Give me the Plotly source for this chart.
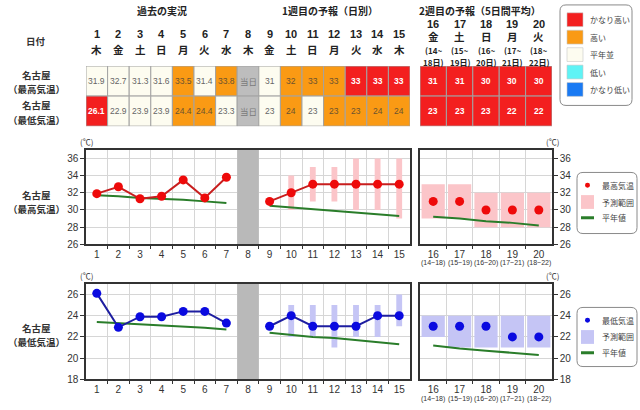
import plotly.graph_objects as go

W, H = 640, 410


def px(x):
    return x / W


def py(y):
    return 1 - y / H


# ---------------- data ----------------
days_w1 = [1, 2, 3, 4, 5, 6, 7, 8, 9, 10, 11, 12, 13, 14, 15]
weekdays_w1 = ['木', '金', '土', '日', '月', '火', '水', '木', '金', '土', '日', '月', '火', '水', '木']
days_obs = [1, 2, 3, 4, 5, 6, 7]
today_day = 8
today_label = '当日'
days_fc = [9, 10, 11, 12, 13, 14, 15]
days_w2 = [16, 17, 18, 19, 20]
weekdays_w2 = ['金', '土', '日', '月', '火']
w2_start = [14, 15, 16, 17, 18]
w2_end = [18, 19, 20, 21, 22]

tmax_obs = [31.9, 32.7, 31.3, 31.6, 33.5, 31.4, 33.8]
tmax_fc = [31, 32, 33, 33, 33, 33, 33]
tmax_fc_low = [None, 30, 31, 31, 30, 30, 29]
tmax_fc_high = [None, 34, 35, 35, 36, 36, 36]
tmax_w2 = [31, 31, 30, 30, 30]
tmax_w2_low = [29, 29, 28, 28, 28]
tmax_w2_high = [33, 33, 32, 32, 32]
tmax_norm_obs = [31.7, 31.6, 31.4, 31.3, 31.2, 31.0, 30.8]
tmax_norm_fc = [30.5, 30.3, 30.1, 29.9, 29.7, 29.5, 29.3]
tmax_norm_w2 = [29.2, 29.0, 28.7, 28.5, 28.2]

tmin_obs = [26.1, 22.9, 23.9, 23.9, 24.4, 24.4, 23.3]
tmin_fc = [23, 24, 23, 23, 23, 24, 24]
tmin_fc_low = [None, 22, 22, 21, 22, 22, 23]
tmin_fc_high = [None, 25, 25, 25, 25, 25, 26]
tmin_w2 = [23, 23, 23, 22, 22]
tmin_w2_low = [22, 21, 21, 21, 21]
tmin_w2_high = [24, 24, 24, 24, 24]
tmin_norm_obs = [23.4, 23.3, 23.2, 23.1, 23.0, 22.85, 22.7]
tmin_norm_fc = [22.4, 22.2, 22.0, 21.9, 21.7, 21.5, 21.3]
tmin_norm_w2 = [21.2, 20.9, 20.7, 20.5, 20.3]

# table classes (VH=かなり高い, H=高い, N=平年並, L=低い, VL=かなり低い, T=当日)
tmax_class_w1 = ['N', 'N', 'N', 'N', 'H', 'N', 'H', 'T', 'N', 'H', 'H', 'H', 'VH', 'VH', 'VH']
tmax_class_w2 = ['VH', 'VH', 'VH', 'VH', 'VH']
tmin_class_w1 = ['VH', 'N', 'N', 'N', 'H', 'H', 'N', 'T', 'N', 'H', 'N', 'H', 'H', 'H', 'H']
tmin_class_w2 = ['VH', 'VH', 'VH', 'VH', 'VH']

class_keys = ['VH', 'H', 'N', 'L', 'VL']
class_labels = ['かなり高い', '高い', '平年並', '低い', 'かなり低い']

# ---------------- styles ----------------
CLASS_COLOR = {'VH': '#f31f1f', 'H': '#fa9a14', 'N': '#fdfcf0', 'L': '#5ff3f5', 'VL': '#1a7af3', 'T': '#bdbdbd'}
CLASS_TEXT = {'VH': '#ffffff', 'H': '#6b5330', 'N': '#666666', 'L': '#333333', 'VL': '#ffffff', 'T': '#7a7a7a'}
FONT = 'Liberation Sans, Noto Sans CJK JP, sans-serif'
JFONT = 'Noto Sans CJK JP, sans-serif'
RED_M, RED_L = '#ee0a0a', '#c81e1e'
BLUE_M, BLUE_L = '#0a0ae0', '#1e1ea0'
PINK, LAV = '#fbc5c9', '#c5c5f5'
GREEN = '#2a7d2a'
GRID = '#d6d6d6'
FRAME = '#333333'
BAND = '#b9b9b9'

# geometry (pixels)
L1X0, L1X1 = 86, 410
R1X0, R1X1 = 420, 552
C1Y0, C1Y1 = 152, 248
C2Y0, C2Y1 = 288, 385
TY0, TY1 = 67, 128
MAX_RANGE = [26, 37]
MIN_RANGE = [18, 27]

fig = go.Figure()


def keep(xs, lows, highs):
    xx, bb, hh = [], [], []
    for x, lo, hi in zip(xs, lows, highs):
        if lo is not None and hi is not None:
            xx.append(x)
            bb.append(lo)
            hh.append(hi - lo)
    return xx, bb, hh


def add_chart(xa_l, ya_l, xa_r, ya_r, rng, obs, fc, fc_lo, fc_hi, w2, w2_lo, w2_hi,
              n_obs, n_fc, n_w2, mcol, lcol, rcol):
    # today band
    fig.add_trace(go.Bar(x=[today_day], y=[rng[1] - rng[0]], base=[rng[0]], width=1,
                         marker=dict(color=BAND, line=dict(width=0)), xaxis=xa_l, yaxis=ya_l, hoverinfo='skip'))
    # forecast ranges (week 1)
    xx, bb, hh = keep(days_fc, fc_lo, fc_hi)
    fig.add_trace(go.Bar(x=xx, y=hh, base=bb, width=0.27, marker=dict(color=rcol, line=dict(width=0)),
                         xaxis=xa_l, yaxis=ya_l, hoverinfo='skip'))
    # forecast ranges (week 2)
    xx, bb, hh = keep(days_w2, w2_lo, w2_hi)
    fig.add_trace(go.Bar(x=xx, y=hh, base=bb, width=0.88, marker=dict(color=rcol, line=dict(width=0)),
                         xaxis=xa_r, yaxis=ya_r, hoverinfo='skip'))
    # normals
    for xs, ys, xa, ya in [(days_obs, n_obs, xa_l, ya_l), (days_fc, n_fc, xa_l, ya_l), (days_w2, n_w2, xa_r, ya_r)]:
        fig.add_trace(go.Scatter(x=xs, y=ys, mode='lines', line=dict(color=GREEN, width=2),
                                 xaxis=xa, yaxis=ya, hoverinfo='skip'))
    # observed / forecast
    for xs, ys in [(days_obs, obs), (days_fc, fc)]:
        fig.add_trace(go.Scatter(x=xs, y=ys, mode='lines+markers', line=dict(color=lcol, width=2),
                                 marker=dict(color=mcol, size=9), xaxis=xa_l, yaxis=ya_l, hoverinfo='skip'))
    fig.add_trace(go.Scatter(x=days_w2, y=w2, mode='markers', marker=dict(color=mcol, size=9),
                             xaxis=xa_r, yaxis=ya_r, hoverinfo='skip'))


add_chart('x', 'y', 'x2', 'y2', MAX_RANGE, tmax_obs, tmax_fc, tmax_fc_low, tmax_fc_high, tmax_w2, tmax_w2_low,
          tmax_w2_high, tmax_norm_obs, tmax_norm_fc, tmax_norm_w2, RED_M, RED_L, PINK)
add_chart('x3', 'y3', 'x4', 'y4', MIN_RANGE, tmin_obs, tmin_fc, tmin_fc_low, tmin_fc_high, tmin_w2, tmin_w2_low,
          tmin_w2_high, tmin_norm_obs, tmin_norm_fc, tmin_norm_w2, BLUE_M, BLUE_L, LAV)


def xaxis_cfg(dom, days, anchor):
    return dict(domain=dom, range=[days[0] - 0.5, days[-1] + 0.5], anchor=anchor,
                tickmode='array', tickvals=days, ticktext=[str(d) for d in days],
                showgrid=False, ticks='', showline=True, linecolor=FRAME, linewidth=1.5, mirror=True,
                zeroline=False, fixedrange=True, tickfont=dict(size=10, color='#333', family=FONT),
                minor=dict(tickmode='array', tickvals=[d + 0.5 for d in days[:-1]], showgrid=True,
                           gridcolor=GRID, gridwidth=1, ticks='outside', ticklen=3, tickcolor=FRAME))


def yaxis_cfg(dom, rng, vals, anchor, side):
    return dict(domain=dom, range=rng, anchor=anchor, side=side, tickmode='array', tickvals=vals,
                showgrid=True, gridcolor=GRID, gridwidth=1, ticks='outside', ticklen=4, tickcolor=FRAME,
                showline=True, linecolor=FRAME, linewidth=1.5, mirror=True, zeroline=False,
                fixedrange=True, tickfont=dict(size=10, color='#333', family=FONT))


d_l = [px(L1X0), px(L1X1)]
d_r = [px(R1X0), px(R1X1)]
d_c1 = [py(C1Y1), py(C1Y0)]
d_c2 = [py(C2Y1), py(C2Y0)]
ticks_max = [26, 28, 30, 32, 34, 36]
ticks_min = [18, 20, 22, 24, 26]

layout_axes = dict(
    xaxis=xaxis_cfg(d_l, days_w1, 'y'),
    yaxis=yaxis_cfg(d_c1, MAX_RANGE, ticks_max, 'x', 'left'),
    xaxis2=xaxis_cfg(d_r, days_w2, 'y2'),
    yaxis2=yaxis_cfg(d_c1, MAX_RANGE, ticks_max, 'x2', 'right'),
    xaxis3=xaxis_cfg(d_l, days_w1, 'y3'),
    yaxis3=yaxis_cfg(d_c2, MIN_RANGE, ticks_min, 'x3', 'left'),
    xaxis4=xaxis_cfg(d_r, days_w2, 'y4'),
    yaxis4=yaxis_cfg(d_c2, MIN_RANGE, ticks_min, 'x4', 'right'),
    xaxis5=dict(domain=d_l, range=[days_w1[0] - 0.5, days_w1[-1] + 0.5], anchor='y5', visible=False, fixedrange=True),
    yaxis5=dict(domain=[py(TY1), py(TY0)], range=[1.5, -0.5], anchor='x5', visible=False, fixedrange=True),
    xaxis6=dict(domain=d_r, range=[days_w2[0] - 0.5, days_w2[-1] + 0.5], anchor='y6', visible=False, fixedrange=True),
    yaxis6=dict(domain=[py(TY1), py(TY0)], range=[1.5, -0.5], anchor='x6', visible=False, fixedrange=True),
)

shapes = []
annotations = []


def ann(**kw):
    kw.setdefault('showarrow', False)
    kw.setdefault('xanchor', 'center')
    kw.setdefault('yanchor', 'middle')
    annotations.append(kw)


# table cells
def fmt(v):
    return ('%.1f' % v) if abs(v - round(v)) > 1e-9 else ('%d' % round(v))


w1_max_text = [fmt(v) for v in tmax_obs] + [today_label] + [fmt(v) for v in tmax_fc]
w1_min_text = [fmt(v) for v in tmin_obs] + [today_label] + [fmt(v) for v in tmin_fc]
w2_max_text = [fmt(v) for v in tmax_w2]
w2_min_text = [fmt(v) for v in tmin_w2]

table_rows = [
    ('x5', 'y5', days_w1, [tmax_class_w1, tmin_class_w1], [w1_max_text, w1_min_text]),
    ('x6', 'y6', days_w2, [tmax_class_w2, tmin_class_w2], [w2_max_text, w2_min_text]),
]
for xa, ya, days, classes, texts in table_rows:
    for r in range(2):
        for d, c, t in zip(days, classes[r], texts[r]):
            shapes.append(dict(type='rect', xref=xa, yref=ya, x0=d - 0.5, x1=d + 0.5, y0=r - 0.5, y1=r + 0.5,
                               fillcolor=CLASS_COLOR[c], line=dict(color='#a3a3a3', width=1), layer='below'))
            bold = c == 'VH'
            ann(xref=xa, yref=ya, x=d, y=r, text=('<b>%s</b>' % t) if bold else t,
                font=dict(size=8.5, color=CLASS_TEXT[c], family=FONT if c != 'T' else JFONT))

# table header
for d, wd in zip(days_w1, weekdays_w1):
    ann(xref='x5', yref='paper', x=d, y=py(35), text='<b>%d</b>' % d, font=dict(size=11, color='#222', family=FONT))
    ann(xref='x5', yref='paper', x=d, y=py(50), text='<b>%s</b>' % wd, font=dict(size=10.5, color='#222', family=JFONT))
for d, wd, s, e in zip(days_w2, weekdays_w2, w2_start, w2_end):
    ann(xref='x6', yref='paper', x=d, y=py(24), text='<b>%d</b>' % d, font=dict(size=11, color='#222', family=FONT))
    ann(xref='x6', yref='paper', x=d, y=py(37.5), text='<b>%s</b>' % wd, font=dict(size=10.5, color='#222', family=JFONT))
    ann(xref='x6', yref='paper', x=d, y=py(51.5), text='<b>(%d~</b>' % s, font=dict(size=8, color='#222', family=JFONT))
    ann(xref='x6', yref='paper', x=d, y=py(63), text='<b>%d日)</b>' % e, font=dict(size=8, color='#222', family=JFONT))

# chart sub labels for week-2 periods
for d, s, e in zip(days_w2, w2_start, w2_end):
    for yy in [267, 405]:
        ann(xref='x2', yref='paper', x=d, y=py(yy), text='(%d~%d)' % (s, e),
            font=dict(size=7, color='#333', family=FONT))

# section titles
for text, cx in [('過去の実況', 162), ('1週目の予報（日別）', 330), ('2週目の予報（5日間平均）', 480)]:
    ann(xref='paper', yref='paper', x=px(cx), y=py(11), text='<b>%s</b>' % text,
        font=dict(size=10, color='#222', family=JFONT))

# left labels
left_labels = [('日付', 42), ('名古屋', 76), ('（最高気温）', 90.5), ('名古屋', 107), ('（最低気温）', 121.5),
               ('名古屋', 197.5), ('（最高気温）', 212), ('名古屋', 332.5), ('（最低気温）', 347)]
for text, yy in left_labels:
    ann(xref='paper', yref='paper', x=px(36), y=py(yy), text='<b>%s</b>' % text,
        font=dict(size=9.5, color='#333', family=JFONT))

# unit labels
for xx, yy in [(86, 144), (552, 144), (86, 280), (552, 280)]:
    ann(xref='paper', yref='paper', x=px(xx), y=py(yy), text='(℃)', font=dict(size=8, color='#333', family=JFONT))


# legends (drawn as decoration)
def rounded_box(x0, y0, x1, y1, r=6):
    X = lambda v: px(v)
    Y = lambda v: py(v)
    p = 'M %f,%f L %f,%f Q %f,%f %f,%f L %f,%f Q %f,%f %f,%f L %f,%f Q %f,%f %f,%f L %f,%f Q %f,%f %f,%f Z' % (
        X(x0 + r), Y(y0), X(x1 - r), Y(y0), X(x1), Y(y0), X(x1), Y(y0 + r),
        X(x1), Y(y1 - r), X(x1), Y(y1), X(x1 - r), Y(y1),
        X(x0 + r), Y(y1), X(x0), Y(y1), X(x0), Y(y1 - r),
        X(x0), Y(y0 + r), X(x0), Y(y0), X(x0 + r), Y(y0))
    return dict(type='path', xref='paper', yref='paper', path=p, line=dict(color='#8a8a8a', width=1),
                fillcolor='rgba(255,255,255,0)', layer='above')


lfont = dict(size=8, color='#444', family=JFONT)
shapes.append(rounded_box(560, 5, 632, 107))
for i, (k, lab) in enumerate(zip(class_keys, class_labels)):
    cy = 20 + i * 17.7
    shapes.append(dict(type='rect', xref='paper', yref='paper', x0=px(567), x1=px(583), y0=py(cy + 7), y1=py(cy - 7),
                       fillcolor=CLASS_COLOR[k], line=dict(color='#c8c8c8', width=0.6), layer='above'))
    ann(xref='paper', yref='paper', x=px(588), y=py(cy), xanchor='left', text=lab, font=lfont)

for (by0, by1, ys, mcol, rcol, name) in [(175, 237, [188, 205, 221], RED_M, PINK, '最高気温'),
                                         (312, 372, [325, 342, 358], BLUE_M, LAV, '最低気温')]:
    shapes.append(rounded_box(577, by0, 637, by1))
    shapes.append(dict(type='circle', xref='paper', yref='paper', x0=px(585), x1=px(590), y0=py(ys[0] + 2.5),
                       y1=py(ys[0] - 2.5), fillcolor=mcol, line=dict(width=0), layer='above'))
    shapes.append(dict(type='rect', xref='paper', yref='paper', x0=px(581), x1=px(594), y0=py(ys[1] + 7),
                       y1=py(ys[1] - 7), fillcolor=rcol, line=dict(width=0), layer='above'))
    shapes.append(dict(type='line', xref='paper', yref='paper', x0=px(581), x1=px(594), y0=py(ys[2]),
                       y1=py(ys[2]), line=dict(color=GREEN, width=3), layer='above'))
    for yy, lab in zip(ys, [name, '予測範囲', '平年値']):
        ann(xref='paper', yref='paper', x=px(600), y=py(yy), xanchor='left', text=lab, font=lfont)

fig.update_layout(
    width=W, height=H, margin=dict(l=0, r=0, t=0, b=0),
    paper_bgcolor='white', plot_bgcolor='white', showlegend=False,
    barmode='overlay', font=dict(family=FONT, color='#333'),
    shapes=shapes, annotations=annotations, **layout_axes,
)

fig.write_html('out.html')
